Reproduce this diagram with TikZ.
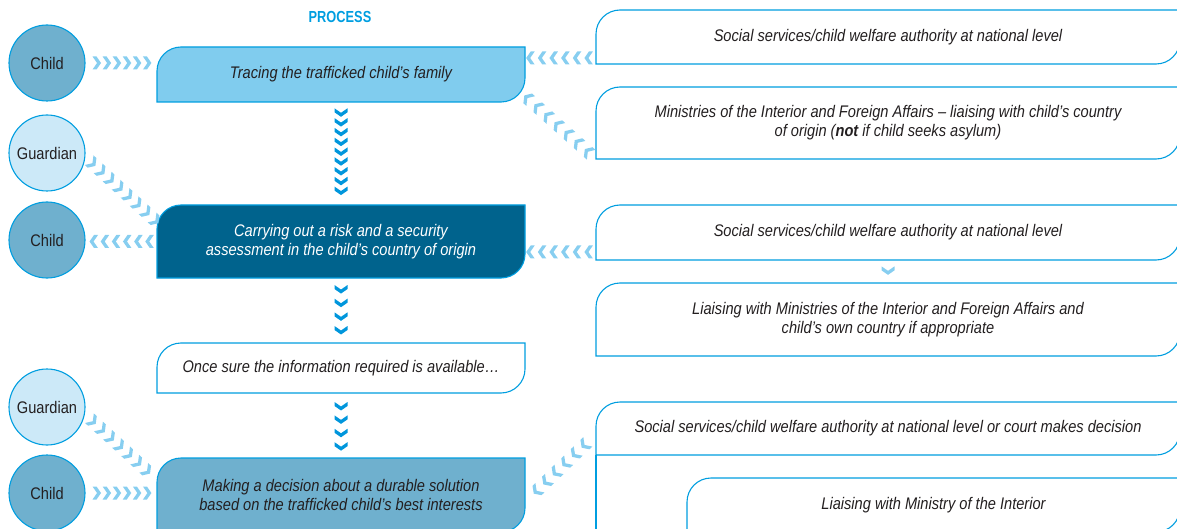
\documentclass[tikz,border=0pt]{standalone}
\usepackage{fontspec}
\setmainfont{Liberation Sans}[FakeStretch=0.87]
\newfontfamily\titlefont{Liberation Sans}[FakeStretch=0.8]
\usetikzlibrary{backgrounds,decorations.markings}
\definecolor{edgeblue}{RGB}{0,158,224}
\definecolor{pale}{RGB}{135,206,240}
\definecolor{sky}{RGB}{128,204,238}
\definecolor{deep}{RGB}{0,99,141}
\definecolor{steel}{RGB}{111,176,206}
\definecolor{mist}{RGB}{204,233,248}
\definecolor{ink}{RGB}{35,31,32}
\definecolor{brightblue}{RGB}{0,150,220}
\newcommand{\diagfont}{\fontsize{16.8}{19}\selectfont}
\tikzset{
  person/.style = {circle, draw=edgeblue, line width=1.1pt, minimum size=76pt, inner sep=0pt,
    outer sep=0pt, text=ink, font=\diagfont},
  stage/.style  = {minimum width=368pt, inner sep=0pt, outer sep=0pt,
    align=center, text=ink, font=\diagfont\itshape},
  agency/.style = {minimum width=584pt, inner sep=0pt, outer sep=0pt,
    align=center, text=ink, font=\diagfont\itshape},
  chevs/.style 2 args = {decorate, decoration={markings,
    mark=between positions #1 with {\fill[#2] (-4pt,6.5pt) -- (0pt,6.5pt) -- (4.5pt,0pt)
      -- (0pt,-6.5pt) -- (-4pt,-6.5pt) -- (0.5pt,0pt) -- cycle;}}}
}

\begin{document}
\begin{tikzpicture}[x=1pt,y=1pt]
  \useasboundingbox (0,0) rectangle (1177,528);
  \node[text=edgeblue, font=\fontsize{16}{19}\titlefont\bfseries] (title) at (340,511) {PROCESS};

  % people
  \node[person, fill=steel] (child1) at (47,465) {Child};
  \node[person, fill=mist]  (guard1) at (47,375) {Guardian};
  \node[person, fill=steel] (child2) at (47,288) {Child};
  \node[person, fill=mist]  (guard2) at (47,121) {Guardian};
  \node[person, fill=steel] (child3) at (47,35)  {Child};

  % process steps
  \node[stage, minimum height=55pt] (trace) at (341,453.5) {Tracing the trafficked child’s family};
  \node[stage, minimum height=73pt, text=white] (carry) at (341,286.5)
    {Carrying out a risk and a security\\assessment in the child’s country of origin};
  \node[stage, minimum height=50pt] (once) at (341,160) {Once sure the information required is available…};
  \node[stage, minimum height=74pt] (decide) at (341,33)
    {Making a decision about a durable solution\\based on the trafficked child’s best interests};

  % agencies
  \node[agency, minimum height=54pt] (r1) at (888,491) {Social services/child welfare authority at national level};
  \node[agency, minimum height=72pt] (r2) at (888,405)
    {Ministries of the Interior and Foreign Affairs – liaising with child’s country\\of origin (\textbf{not} if child seeks asylum)};
  \node[agency, minimum height=55pt] (r3) at (888,295.5) {Social services/child welfare authority at national level};
  \node[agency, minimum height=73pt] (r4) at (888,208.5)
    {Liaising with Ministries of the Interior and Foreign Affairs and\\child’s own country if appropriate};
  \node[agency, minimum height=53pt] (r5) at (888,99.5)
    {Social services/child welfare authority at national level or court makes decision};
  \node[agency, minimum width=493pt, minimum height=54pt] (r6) at (933.5,23) {Liaising with Ministry of the Interior};

  \begin{scope}[on background layer]
    \foreach \n/\c in {trace/sky,carry/deep,once/white,decide/steel,r1/white,r2/white,r3/white,r4/white,r5/white,r6/white}
      \draw[edgeblue, line width=1.1pt, fill=\c] (\n.south west) -- ([yshift=-24pt]\n.north west)
        arc[start angle=180, end angle=90, radius=24pt] -- (\n.north east)
        -- ([yshift=24pt]\n.south east) arc[start angle=0, end angle=-90, radius=24pt] -- cycle;
  \end{scope}

  \coordinate (base) at (596,-10);
  \draw[edgeblue, line width=2.5pt] (r5.south west) -- (r5.south west |- base);

  % chevron links
  \path[chevs={0.16 and 0.87 step 0.14}{pale}] (child1.east) -- (child1.east -| trace.west);
  \path[chevs={0.1 and 0.93 step 0.164}{pale}] ([yshift=6pt]r1.south west) -- ([yshift=6pt]r1.south west -| trace.east);
  \path[chevs={0.11 and 0.98 step 0.142}{pale}] (r2.south west) -- ([yshift=6pt]trace.south east);
  \path[chevs={0.1 and 0.99 step 0.125}{pale}] (guard1.-5) -- ([yshift=-17pt]carry.north west);
  \path[chevs={0.1 and 0.9 step 0.155}{pale}] (carry.west) -- (carry.west -| child2.east);
  \path[chevs={0.1 and 0.93 step 0.164}{pale}] ([yshift=8pt]r3.south west) -- ([yshift=8pt]r3.south west -| carry.east);
  \path[chevs={0.45 and 0.46 step 0.1}{pale}] (r3.south) -- (r4.north);
  \path[chevs={0.1 and 0.87 step 0.095}{brightblue}] (trace) -- (carry);
  \path[chevs={0.17 and 0.81 step 0.21}{brightblue}] (carry) -- (once);
  \path[chevs={0.2 and 0.83 step 0.206}{brightblue}] (once) -- (decide);
  \path[chevs={0.11 and 0.87 step 0.125}{pale}] (guard2.-10) -- ([yshift=-22pt]decide.north west);
  \path[chevs={0.16 and 0.87 step 0.14}{pale}] (child3.east) -- (child3.east -| decide.west);
  \path[chevs={0.156 and 0.84 step 0.135}{pale}] ([yshift=21pt]r5.south west) -- ([yshift=-7pt]decide.east);
\end{tikzpicture}
\end{document}
